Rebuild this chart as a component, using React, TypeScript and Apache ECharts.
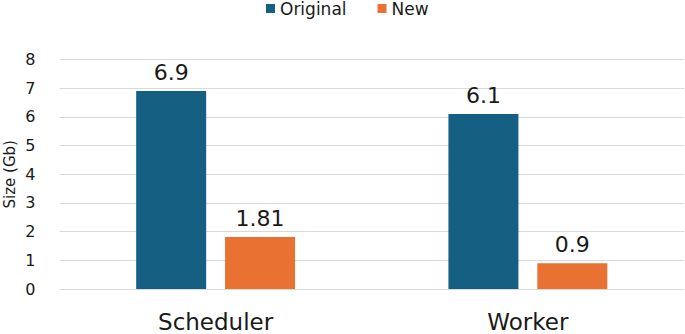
import React, { useEffect, useRef } from "react";
import * as echarts from "echarts";

const categories = ["Scheduler", "Worker"];
const originalValues = [6.9, 6.1];
const newValues = [1.81, 0.9];
const seriesNames = ["Original", "New"];

const FONT = "DejaVu Sans";

export default function App() {
  const ref = useRef<HTMLDivElement>(null);
  useEffect(() => {
    document.body.style.margin = "0";
    const chart = echarts.init(ref.current!, null, { renderer: "svg" });
    chart.setOption({
      animation: false,
      textStyle: { fontFamily: FONT },
      legend: {
        data: seriesNames,
        left: 266,
        top: 0,
        padding: 0,
        itemWidth: 9,
        itemHeight: 9,
        itemGap: 31,
        icon: "rect",
        textStyle: { fontFamily: FONT, fontSize: 17, color: "#1a1a1a" },
      },
      grid: {
        left: 59.5,
        right: 1,
        top: 59.5,
        bottom: 45,
        containLabel: false,
        outerBoundsMode: "none",
      },
      xAxis: {
        type: "category",
        data: categories,
        axisLine: { show: false },
        axisTick: { show: false },
        axisLabel: { fontFamily: FONT, fontSize: 23, color: "#1a1a1a", margin: 21 },
      },
      yAxis: {
        type: "value",
        min: 0,
        max: 8,
        interval: 1,
        name: "Size (Gb)",
        nameLocation: "middle",
        nameGap: 42,
        nameMoveOverlap: false,
        nameTextStyle: { fontFamily: FONT, fontSize: 15, color: "#1a1a1a" },
        axisLine: { show: false },
        axisTick: { show: false },
        axisLabel: { fontFamily: FONT, fontSize: 16, color: "#1a1a1a", margin: 24 },
        splitLine: { lineStyle: { color: "#d9d9d9", width: 1 } },
      },
      series: [
        {
          name: seriesNames[0],
          type: "bar",
          data: originalValues,
          barWidth: 70,
          barGap: "27%",
          itemStyle: { color: "#156082" },
          label: {
            show: true,
            position: "top",
            distance: 8,
            fontFamily: FONT,
            fontSize: 22,
            color: "#1a1a1a",
          },
        },
        {
          name: seriesNames[1],
          type: "bar",
          data: newValues,
          barWidth: 70,
          barGap: "27%",
          itemStyle: { color: "#E97132" },
          label: {
            show: true,
            position: "top",
            distance: 8,
            fontFamily: FONT,
            fontSize: 22,
            color: "#1a1a1a",
          },
        },
      ],
    });
    return () => chart.dispose();
  }, []);
  return (
    <div
      ref={ref}
      style={{ position: "absolute", left: 0, top: 0, width: 685, height: 334 }}
    />
  );
}
